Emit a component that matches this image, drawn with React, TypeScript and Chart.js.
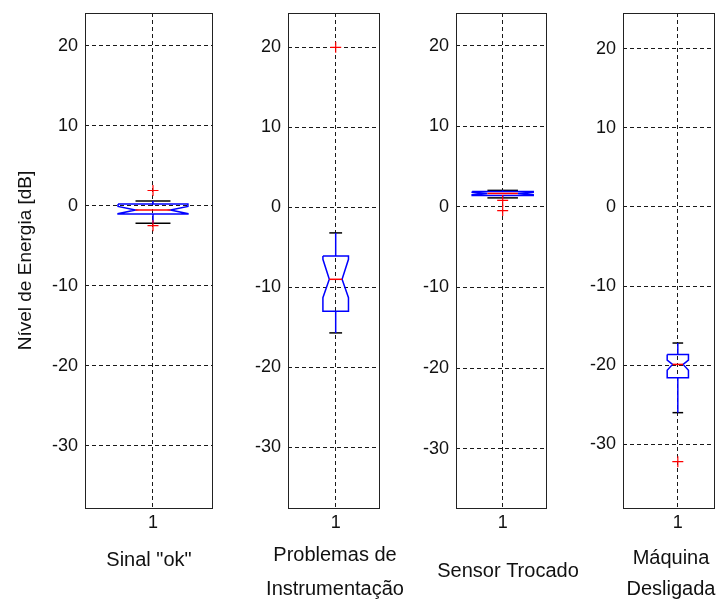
import React, { useEffect, useRef } from 'react';
import { Chart, registerables } from 'chart.js';

Chart.register(...registerables);

// ---------------- data ----------------
const categoryLabels: (string | string[])[] = [
  'Sinal "ok"',
  ['Problemas de', 'Instrumentação'],
  'Sensor Trocado',
  ['Máquina', 'Desligada'],
];
const yAxisTitle = 'Nível de Energia [dB]';
const xTickLabel = '1';
const yTickValues = [-30, -20, -10, 0, 10, 20];

const whiskerHigh = [0.6, -3.2, 2.05, -17.2];
const boxQ3 = [0.2, -6.1, 1.9, -18.65];
const notchHigh = [-0.1, -6.5, 1.8, -19.35];
const medians = [-0.55, -9.0, 1.67, -19.9];
const notchLow = [-1.0, -11.3, 1.52, -20.65];
const boxQ1 = [-1.05, -13.0, 1.42, -21.6];
const whiskerLow = [-2.2, -15.7, 1.12, -26.0];
const outliers = [[1.9, -2.5], [20], [0.8, -0.45], [-32.2]];

// ---------------- layout / style ----------------
const CH = 620; // canvas height (clipped at 603)
const PLOT_TOP = 13;
const PLOT_BOTTOM = 508;
const FONT = '"Liberation Sans", Arial, Helvetica, sans-serif';
const TEXT = '#111';
const GRID = '#1a1a1a';
const FRAME = '#222';
const BLUE = '#0000ff';
const RED = '#ff0000';
const CAP = '#000000';
const BOX_LINE = 1.5;

const PANELS = [
  { left: 0, width: 298, yAxisW: 85, rightW: 86, xMax: 1.434, yMin: -37.79, yMax: 24.09, boxHalf: 0.257, titleMid: 560, titleLH: 32 },
  { left: 235, width: 200, yAxisW: 53, rightW: 56, xMax: 1.454, yMin: -37.59, yMax: 24.29, boxHalf: 0.134, titleMid: 555, titleLH: 34 },
  { left: 408, width: 200, yAxisW: 48, rightW: 62, xMax: 1.464, yMin: -37.36, yMax: 24.06, boxHalf: 0.327, titleMid: 571, titleLH: 32 },
  { left: 571, width: 200, yAxisW: 52, rightW: 57, xMax: 1.33, yMin: -38.05, yMax: 24.51, boxHalf: 0.097, titleMid: 558, titleLH: 31 },
];

const framePlugin = {
  id: 'frame',
  afterDatasetsDraw(chart: any) {
    const { ctx, chartArea: a } = chart;
    ctx.save();
    ctx.strokeStyle = FRAME;
    ctx.lineWidth = 1;
    ctx.setLineDash([]);
    ctx.strokeRect(
      Math.round(a.left) + 0.5,
      Math.round(a.top) + 0.5,
      Math.round(a.right) - Math.round(a.left),
      Math.round(a.bottom) - Math.round(a.top)
    );
    ctx.restore();
  },
};

function lineDs(points: { x: number; y: number }[], color: string) {
  return {
    data: points,
    showLine: true,
    borderColor: color,
    backgroundColor: color,
    borderWidth: BOX_LINE,
    pointRadius: 0,
    fill: false,
    tension: 0,
    yAxisID: 'y',
    xAxisID: 'x',
  };
}

function buildConfig(i: number) {
  const p = PANELS[i];
  const c = 1;
  const w = p.boxHalf;
  const n = w / 2;
  const cw = w / 2;

  const boxPts = [
    { x: c - w, y: boxQ3[i] },
    { x: c + w, y: boxQ3[i] },
    { x: c + w, y: notchHigh[i] },
    { x: c + n, y: medians[i] },
    { x: c + w, y: notchLow[i] },
    { x: c + w, y: boxQ1[i] },
    { x: c - w, y: boxQ1[i] },
    { x: c - w, y: notchLow[i] },
    { x: c - n, y: medians[i] },
    { x: c - w, y: notchHigh[i] },
    { x: c - w, y: boxQ3[i] },
  ];

  const datasets: any[] = [
    {
      data: outliers[i].map((v) => ({ x: c, y: v })),
      showLine: false,
      pointStyle: 'cross',
      pointRadius: 5.5,
      borderColor: RED,
      backgroundColor: RED,
      borderWidth: 1.2,
      yAxisID: 'y',
      xAxisID: 'x',
    },
    lineDs([{ x: c - n, y: medians[i] }, { x: c + n, y: medians[i] }], RED),
    lineDs(boxPts, BLUE),
    lineDs([{ x: c, y: boxQ3[i] }, { x: c, y: whiskerHigh[i] }], BLUE),
    lineDs([{ x: c, y: boxQ1[i] }, { x: c, y: whiskerLow[i] }], BLUE),
    lineDs([{ x: c - cw, y: whiskerHigh[i] }, { x: c + cw, y: whiskerHigh[i] }], CAP),
    lineDs([{ x: c - cw, y: whiskerLow[i] }, { x: c + cw, y: whiskerLow[i] }], CAP),
  ];

  const label = categoryLabels[i];
  const nLines = Array.isArray(label) ? label.length : 1;
  const lh = p.titleLH;
  const pb = CH - p.titleMid - nLines * lh + lh / 2;
  const titleH = nLines * lh + pb;
  const xAxisH = CH - PLOT_BOTTOM - titleH;

  return {
    type: 'scatter' as const,
    data: { datasets },
    options: {
      responsive: false,
      animation: false as const,
      events: [] as any[],
      layout: { padding: { left: 0, right: 0, top: PLOT_TOP, bottom: 0 } },
      plugins: {
        legend: { display: false },
        tooltip: { enabled: false },
        title: {
          display: true,
          position: 'bottom' as const,
          align: 'center' as const,
          text: label,
          color: TEXT,
          font: { family: FONT, size: 20, weight: 'normal' as const, lineHeight: lh / 20 },
          padding: { top: 0, bottom: pb },
        },
      },
      scales: {
        x: {
          type: 'linear' as const,
          position: 'bottom' as const,
          min: 0.5,
          max: p.xMax,
          bounds: 'data' as const,
          afterBuildTicks: (s: any) => {
            s.ticks = [{ value: 1 }];
          },
          afterFit: (s: any) => {
            s.height = xAxisH;
            s.paddingLeft = 0;
            s.paddingRight = 0;
          },
          ticks: {
            callback: () => xTickLabel,
            font: { family: FONT, size: 18 },
            color: TEXT,
            padding: 4,
            maxRotation: 0,
            autoSkip: false,
          },
          grid: { color: GRID, lineWidth: 1, drawTicks: false },
          border: { display: false, dash: [4, 3] },
        },
        y: {
          type: 'linear' as const,
          position: 'left' as const,
          min: p.yMin,
          max: p.yMax,
          bounds: 'data' as const,
          afterBuildTicks: (s: any) => {
            s.ticks = yTickValues.map((v) => ({ value: v }));
          },
          afterFit: (s: any) => {
            s.width = p.yAxisW;
            s.paddingTop = 0;
            s.paddingBottom = 0;
          },
          ticks: {
            callback: (v: any) => String(v),
            font: { family: FONT, size: 18 },
            color: TEXT,
            padding: 7,
            autoSkip: false,
          },
          grid: { color: GRID, lineWidth: 1, drawTicks: false },
          border: { display: false, dash: [4, 3] },
          title: {
            display: i === 0,
            text: yAxisTitle,
            color: TEXT,
            font: { family: FONT, size: 19, weight: 'normal' as const },
            padding: { top: 14, bottom: 0 },
          },
        },
        yRight: {
          type: 'linear' as const,
          position: 'right' as const,
          display: true,
          grid: { display: false },
          border: { display: false },
          ticks: { display: false },
          afterFit: (s: any) => {
            s.width = p.rightW;
            s.paddingTop = 0;
            s.paddingBottom = 0;
          },
        },
      },
    },
    plugins: [framePlugin],
  };
}

function Panel({ index }: { index: number }) {
  const ref = useRef<HTMLCanvasElement>(null);
  useEffect(() => {
    const chart = new Chart(ref.current as HTMLCanvasElement, buildConfig(index) as any);
    return () => chart.destroy();
  }, [index]);
  const p = PANELS[index];
  return (
    <canvas
      ref={ref}
      width={p.width}
      height={CH}
      style={{ position: 'absolute', left: p.left, top: 0, width: p.width, height: CH }}
    />
  );
}

export default function App() {
  return (
    <div
      style={{
        position: 'absolute',
        left: 0,
        top: 0,
        width: 723,
        height: 603,
        overflow: 'hidden',
        background: '#ffffff',
      }}
    >
      {PANELS.map((_, i) => (
        <Panel key={i} index={i} />
      ))}
    </div>
  );
}
